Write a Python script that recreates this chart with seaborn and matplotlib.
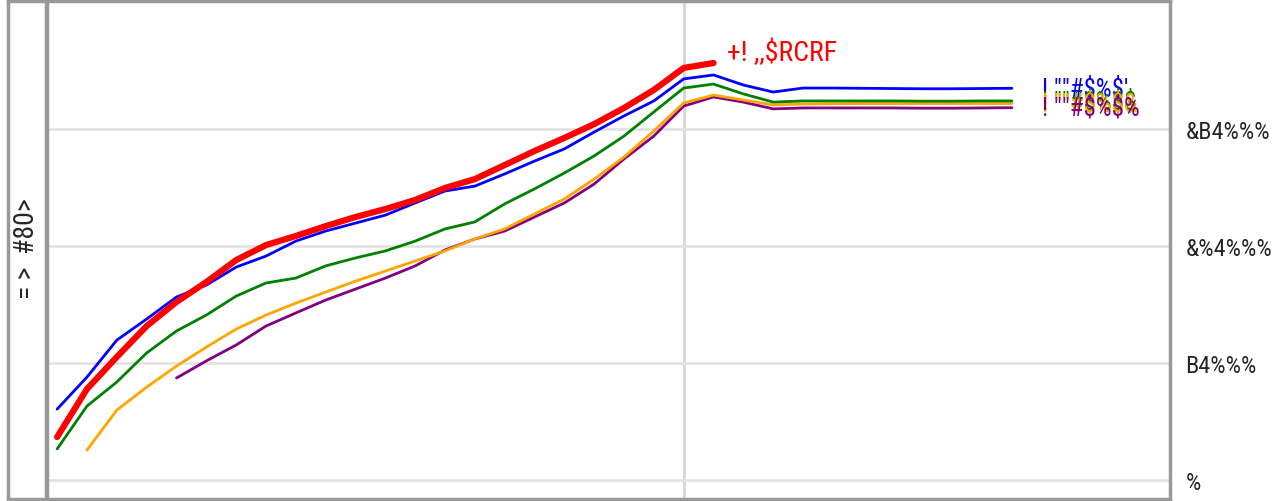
import numpy as np
import pandas as pd
import matplotlib
matplotlib.use("Agg")
import matplotlib.pyplot as plt
import seaborn as sns

sns.set_style("white")
plt.rcParams['font.family'] = ['Roboto Condensed', 'DejaVu Sans']

# data (x = step index, y = value)
red_x = list(range(0, 23))
red_y = [1840, 3890, 5260, 6580, 7610, 8460, 9400, 10040, 10430, 10850, 11240, 11580,
         11970, 12480, 12860, 13460, 14060, 14620, 15210, 15900, 16670, 17610, 17820]

blue_x = list(range(0, 33))
blue_y = [3030, 4400, 5980, 6880, 7820, 8330, 9100, 9570, 10210, 10640, 10980, 11320,
          11840, 12350, 12560, 13080, 13630, 14150, 14870, 15560, 16200, 17140, 17310,
          16880, 16580, 16750, 16750, 16740, 16730, 16720, 16720, 16730, 16740]

green_x = list(range(0, 33))
green_y = [1330, 3160, 4190, 5430, 6370, 7050, 7860, 8420, 8630, 9150, 9490, 9790,
           10210, 10730, 11030, 11800, 12440, 13120, 13850, 14700, 15730, 16750, 16920,
           16500, 16150, 16200, 16200, 16200, 16200, 16190, 16190, 16200, 16200]

orange_x = list(range(1, 33))
orange_y = [1280, 2990, 3970, 4870, 5680, 6450, 7050, 7560, 8030, 8500, 8930, 9360,
            9790, 10300, 10730, 11370, 12010, 12860, 13800, 14920, 16110, 16450, 16240,
            16030, 16070, 16080, 16090, 16090, 16090, 16090, 16090, 16090]

purple_x = list(range(4, 33))
purple_y = [4360, 5090, 5770, 6580, 7140, 7690, 8160, 8630, 9150, 9830, 10300, 10640,
            11240, 11840, 12650, 13720, 14700, 15980, 16370, 16150, 15860, 15900, 15900,
            15900, 15900, 15890, 15890, 15900, 15910]

series_names = ['+! ,,$RCRF', '! ""#$%$\'', '! ""#$%$$', '! ""#$%$&', '! ""#$%$%']
series_colors = ['red', 'blue', 'green', 'orange', 'purple']
series_widths = [4.5, 2, 2, 2, 2]

y_ticks = [0, 5000, 10000, 15000]
y_ticklabels = ['%', 'B4%%%', '&%4%%%', '&B4%%%']
y_title = '= >  #80>'
marker_x = 21

frames = []
for name, xs, ys in zip(series_names,
                        [red_x, blue_x, green_x, orange_x, purple_x],
                        [red_y, blue_y, green_y, orange_y, purple_y]):
    frames.append(pd.DataFrame({'step': xs, 'value': ys, 'series': name}))
df = pd.concat(frames, ignore_index=True)

W, H = 1287, 502
fig = plt.figure(figsize=(W / 100, H / 100), dpi=100)
ax = fig.add_axes([47 / W, 2 / H, (1170 - 47) / W, (500 - 2) / H])
side = fig.add_axes([8 / W, 2 / H, (46 - 8) / W, (500 - 2) / H])

spine_col = '#999999'
for a in (ax, side):
    for s in a.spines.values():
        s.set_color(spine_col)
        s.set_linewidth(2.5)
side.set_xticks([])
side.set_yticks([])
side.text(0.5, 0.505, y_title, rotation=90, ha='center', va='center',
          fontsize=20, transform=side.transAxes, parse_math=False)

# draw from back to front so red sits on top
for name, col, lw in list(zip(series_names, series_colors, series_widths))[::-1]:
    sub = df[df['series'] == name]
    sns.lineplot(data=sub, x='step', y='value', color=col, linewidth=lw, ax=ax,
                 legend=False)

ax.set_xlim(-0.34, 37.3)
ax.set_ylim(-810, 20470)
ax.set_yticks(y_ticks)
ax.set_yticklabels(y_ticklabels)
ax.yaxis.tick_right()
ax.tick_params(axis='y', length=0, pad=11, labelsize=17.5)
ax.set_xticks([marker_x])
ax.set_xticklabels([])
ax.tick_params(axis='x', length=0)
ax.grid(True, axis='y', color='#e3e3e3', linewidth=2)
ax.grid(True, axis='x', color='#d6d6d6', linewidth=2)
ax.set_xlabel('')
ax.set_ylabel('')

# end labels
ax.text(red_x[-1] + 0.45, red_y[-1] + 470, series_names[0], color='red', fontsize=20,
        ha='left', va='center', parse_math=False)
ends = [(blue_x, blue_y), (green_x, green_y), (orange_x, orange_y), (purple_x, purple_y)]
for (xs, ys), name, col in zip(ends, series_names[1:], series_colors[1:]):
    ax.text(xs[-1] + 1.0, ys[-1], name, color=col, fontsize=18, ha='left', va='center',
            parse_math=False)

fig.savefig('out.png', dpi=100)
